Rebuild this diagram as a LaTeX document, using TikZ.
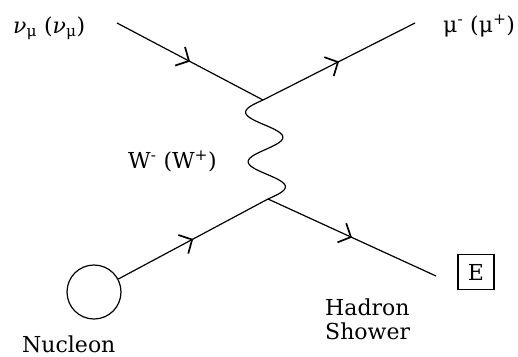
\documentclass[tikz,border=0pt]{standalone}
\usepackage{fontspec}
\setmainfont{DejaVu Serif}
\usetikzlibrary{arrows.meta,decorations.markings}
\tikzset{
  line/.style={line width=1.2pt, black},
  fermion/.style={line, postaction={decorate},
    decoration={markings, mark=at position 0.5 with {\arrow{Straight Barb[length=10pt,width=21pt,line width=1.7pt]}}}},
  lbl/.style={inner sep=0pt, font=\fontsize{22}{24}\selectfont},
}
\begin{document}
\begin{tikzpicture}[x=1pt,y=-1pt]
\useasboundingbox (0,0) rectangle (518,356);
\coordinate (nuin) at (117,23);
\coordinate (muout) at (415,23);
\coordinate (vtop) at (263,100);
\coordinate (vbot) at (268,199);
\coordinate (hadout) at (436,276);
\node[draw, line width=1.2pt, circle, minimum size=54pt, inner sep=0pt] (nucleon) at (94,292) {};
\node[draw, line width=1.2pt, minimum width=36pt, minimum height=35pt, inner sep=0pt, lbl] (E) at (476,272) {E};

\draw[fermion] (nuin) -- (vtop);
\draw[fermion] (vtop) -- (muout);
\draw[line] plot[domain=0:1, samples=120, variable=\t, smooth] ({263+5*\t-18*sin(720*\t)}, {100+99*\t});
\draw[fermion] (nucleon) -- (vbot);
\draw[fermion] (vbot) -- (hadout);

\node[lbl, anchor=base west] (nulbl) at (13,33) {\textit{ν}\textsubscript{μ} (\textit{ν}\textsubscript{μ})};
\node[lbl, anchor=base west] (mulbl) at (443,32) {μ\textsuperscript{-} (μ\textsuperscript{+})};
\node[lbl, anchor=base west] (wlbl) at (128,168) {W\textsuperscript{-} (W\textsuperscript{+})};
\node[lbl, anchor=base west] (nuclbl) at (22,352) {Nucleon};
\node[lbl, anchor=north west, align=left] (hadlbl) at (325,299) {Hadron\\Shower};
\end{tikzpicture}
\end{document}
